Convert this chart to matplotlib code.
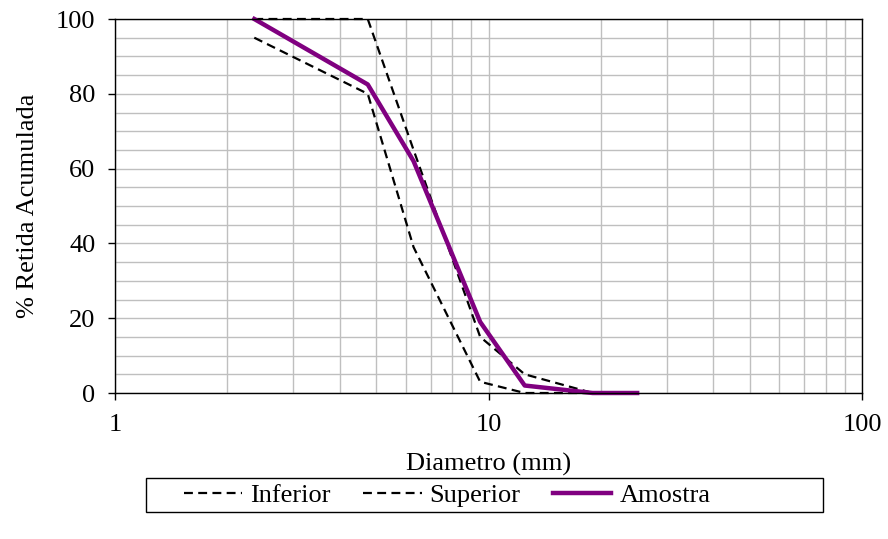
import numpy as np
import matplotlib as mpl
mpl.use('Agg')
import matplotlib.pyplot as plt
from matplotlib.ticker import FixedLocator, NullFormatter
from matplotlib.patches import Rectangle

# sieve openings (mm)
diam_amostra = [2.36, 4.75, 6.3, 9.5, 12.5, 19.0, 25.0]
ret_amostra = [100, 82.5, 62, 19, 2, 0, 0]

diam_inferior = [2.36, 4.75, 6.3, 9.5, 12.5, 19.0]
ret_inferior = [95, 80, 39, 3, 0, 0]

diam_superior = [2.36, 4.75, 6.3, 9.5, 12.5, 19.0]
ret_superior = [100, 100, 65, 15, 5, 0]

y_ticks = [0, 20, 40, 60, 80, 100]
x_ticks = [1, 10, 100]
x_tick_labels = ['1', '10', '100']

plt.rcParams['font.family'] = ['Liberation Serif', 'DejaVu Serif']
plt.rcParams['font.size'] = 19

fig = plt.figure(figsize=(8.88, 5.39), dpi=100)
ax = fig.add_axes([115/888, 1 - 393/539, (862-115)/888, (393-19)/539])

ax.set_xscale('log')
ax.set_xlim(1, 100)
ax.set_ylim(0, 100)

# grid
ax.xaxis.set_minor_locator(FixedLocator([m * 10**e for e in range(0, 2) for m in range(2, 10)]))
ax.yaxis.set_minor_locator(FixedLocator(np.arange(5, 100, 5)))
ax.xaxis.set_minor_formatter(NullFormatter())
ax.grid(True, which='both', color='#BFBFBF', linewidth=1.0)
ax.set_axisbelow(True)

ax.set_xticks(x_ticks)
ax.set_xticklabels(x_tick_labels)
ax.set_yticks(y_ticks)
ax.tick_params(axis='both', which='major', direction='out', length=5, width=1, labelsize=19, colors='k')
ax.tick_params(axis='both', which='minor', length=0)
ax.tick_params(axis='x', pad=10)
ax.tick_params(axis='y', pad=9)

for s in ax.spines.values():
    s.set_color('k')
    s.set_linewidth(1.0)

dash = (0, (4, 2.4))
ax.plot(diam_inferior, ret_inferior, color='k', linewidth=1.6, linestyle=dash, label='Inferior', clip_on=False)
ax.plot(diam_superior, ret_superior, color='k', linewidth=1.6, linestyle=dash, label='Superior', clip_on=False)
ax.plot(diam_amostra, ret_amostra, color='#800080', linewidth=3.2, label='Amostra', clip_on=False)

ax.set_xlabel('Diametro (mm)', fontsize=19, labelpad=12)
ax.set_ylabel('% Retida Acumulada', fontsize=19, labelpad=12)

# legend box
fig.patches.append(Rectangle((146/888, 1 - 512/539), (823-146)/888, 34/539,
                             transform=fig.transFigure, fill=False, edgecolor='k', linewidth=1.0))
fig.legend(loc='center left', bbox_to_anchor=(184/888, 1 - 495/539), ncol=3, frameon=False,
           handlelength=2.2, handletextpad=0.3, columnspacing=1.25, borderpad=0, borderaxespad=0,
           fontsize=19)

fig.savefig('out.png', dpi=100)
